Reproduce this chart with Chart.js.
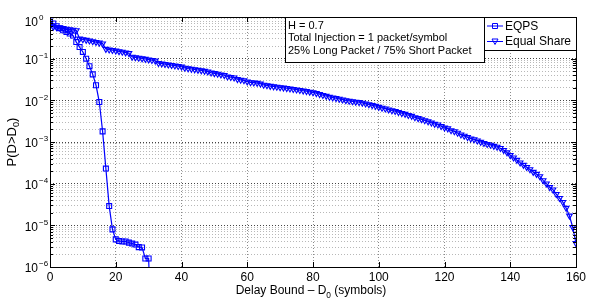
<!DOCTYPE html>
<html lang="en">
<head>
<meta charset="UTF-8" />
<title>Delay bound tail probability</title>
<script src="https://cdn.jsdelivr.net/npm/chart.js"></script>
<style>
  body { margin: 0; background: #fff; }
</style>
</head>
<body>
<canvas id="delayChart" width="592" height="301"></canvas>
<script>
// EQPS: delay bound (symbols) and P(D > D0)
const eqpsDelay = [0, 1, 2, 3, 4, 5, 6, 7, 8, 9, 10, 11, 12, 13, 14, 15, 16, 17, 18, 19, 20,
  21, 22, 23, 24, 25, 26, 27, 28, 29, 30, 31]
const eqpsProb = [0.78, 0.70, 0.60, 0.54, 0.48, 0.44, 0.40, 0.36, 0.25, 0.19, 0.145, 0.10, 0.066,
  0.042, 0.023, 0.0091, 0.0018, 2.3e-4, 2.9e-5, 8.0e-6, 4.6e-6, 4.2e-6, 4.1e-6, 4.1e-6, 3.85e-6,
  3.65e-6, 3.45e-6, 3.0e-6, 2.95e-6, 1.6e-6, 1.6e-6, 1e-8]

// Equal Share: one value per delay bound 0..160
const equalShareProb = [
  0.60, 0.58, 0.565, 0.55, 0.535, 0.52, 0.505, 0.49, 0.475, 0.30,
  0.29, 0.28, 0.27, 0.26, 0.25, 0.24, 0.23, 0.17, 0.165, 0.16,
  0.155, 0.15, 0.145, 0.14, 0.135, 0.11, 0.107, 0.104, 0.101, 0.098,
  0.095, 0.092, 0.089, 0.078, 0.076, 0.074, 0.072, 0.070, 0.068, 0.066,
  0.064, 0.060, 0.058, 0.0565, 0.055, 0.0535, 0.052, 0.0505, 0.049, 0.046,
  0.0445, 0.043, 0.0415, 0.040, 0.037, 0.036, 0.035, 0.032, 0.031, 0.030,
  0.028, 0.027, 0.0265, 0.026, 0.025, 0.0235, 0.0228, 0.022, 0.0215, 0.021,
  0.0205, 0.020, 0.0195, 0.019, 0.0185, 0.018, 0.0175, 0.017, 0.0165, 0.016,
  0.0155, 0.0148, 0.014, 0.0133, 0.0127, 0.012, 0.0116, 0.0112, 0.0108, 0.0104,
  0.0100, 0.0097, 0.0094, 0.0092, 0.0090, 0.0087, 0.0083, 0.0080, 0.0076, 0.0073,
  0.0069, 0.0066, 0.0063, 0.0060, 0.0057, 0.0055, 0.0052, 0.0049, 0.0047, 0.0044,
  0.0042, 0.0039, 0.0037, 0.0035, 0.0033, 0.0031, 0.0029, 0.0027, 0.0026, 0.0024,
  0.0022, 0.0021, 0.0019, 0.0018, 0.00165, 0.0015, 0.0014, 0.0013, 0.0012, 0.00115,
  0.00108, 0.00100, 0.00094, 0.00089, 0.00085, 0.00080, 0.00076, 0.00071, 0.00064, 0.00056,
  0.00048, 0.00042, 0.00037, 0.00032, 0.00028, 0.00025, 0.00022, 0.00019, 0.00017, 0.00015,
  0.00012, 0.00010, 0.000082, 0.000072, 0.000056, 0.000045, 0.000036, 0.000026, 0.000017, 0.0000090,
  0.0000037
]

const xTicks = [0, 20, 40, 60, 80, 100, 120, 140, 160]
const yDecades = [0, -1, -2, -3, -4, -5, -6]
const seriesNames = ['EQPS', 'Equal Share']
const infoLines = ['H = 0.7', 'Total Injection = 1 packet/symbol', '25% Long Packet / 75% Short Packet']

const FONT = '"Liberation Sans", Arial, sans-serif'
const BLUE = '#0000ff'

// log grid: 1..9 x 10^n
const logGrid = []
yDecades.slice().reverse().forEach((e) => {
  for (let m = 1; m <= 9; m++) {
    const v = m * Math.pow(10, e)
    if (v <= 1) logGrid.push(v)
  }
})
const isDecade = (v) => Math.abs(Math.log10(v) - Math.round(Math.log10(v))) < 1e-9

function textWithSub(ctx, parts, x, y, size) {
  // parts: [text, sub, text] drawn left to right, x = left edge
  let cx = x
  parts.forEach((p, i) => {
    if (i % 2 === 1) {
      ctx.font = `${size * 0.7}px ${FONT}`
      ctx.fillText(p, cx, y + size * 0.35)
    } else {
      ctx.font = `${size}px ${FONT}`
      ctx.fillText(p, cx, y)
    }
    cx += ctx.measureText(p).width
  })
  return cx - x
}

function measureSub(ctx, parts, size) {
  let w = 0
  parts.forEach((p, i) => {
    ctx.font = `${i % 2 === 1 ? size * 0.7 : size}px ${FONT}`
    w += ctx.measureText(p).width
  })
  return w
}

const framePlugin = {
  id: 'frame',
  afterDraw(chart) {
    const { ctx, chartArea: a, scales } = chart
    const xs = scales.x
    const ys = scales.y
    ctx.save()
    ctx.strokeStyle = '#000'
    ctx.lineWidth = 1
    ctx.strokeRect(a.left + 0.5, a.top + 0.5, a.right - a.left, a.bottom - a.top)

    // tick marks inside the box
    ctx.beginPath()
    xTicks.forEach((v) => {
      const px = Math.round(xs.getPixelForValue(v)) + 0.5
      ctx.moveTo(px, a.bottom)
      ctx.lineTo(px, a.bottom - 5)
      ctx.moveTo(px, a.top)
      ctx.lineTo(px, a.top + 5)
    })
    logGrid.forEach((v) => {
      const py = Math.round(ys.getPixelForValue(v)) + 0.5
      const len = isDecade(v) ? 5 : 3
      ctx.moveTo(a.left, py)
      ctx.lineTo(a.left + len, py)
      ctx.moveTo(a.right, py)
      ctx.lineTo(a.right - len, py)
    })
    ctx.stroke()

    // x tick labels
    ctx.fillStyle = '#000'
    ctx.font = `12px ${FONT}`
    ctx.textAlign = 'center'
    ctx.textBaseline = 'middle'
    xTicks.forEach((v) => {
      ctx.fillText(String(v), xs.getPixelForValue(v), a.bottom + 11)
    })

    // y tick labels 10^n
    yDecades.forEach((e) => {
      const py = ys.getPixelForValue(Math.pow(10, e))
      const base = py + (e === 0 ? 6 : 2)
      ctx.font = `12px ${FONT}`
      ctx.textAlign = 'right'
      ctx.fillText('10', 38, base)
      ctx.font = `8px ${FONT}`
      ctx.textAlign = 'left'
      ctx.fillText(e === 0 ? '0' : '\u2212' + Math.abs(e), 39, base - 5)
    })

    // axis titles
    ctx.textAlign = 'left'
    const xParts = ['Delay Bound \u2013 D', '0', ' (symbols)']
    const xw = measureSub(ctx, xParts, 12)
    textWithSub(ctx, xParts, (a.left + a.right) / 2 - xw / 2 - 2, 291, 12)

    const yParts = ['P(D>D', '0', ')']
    const yw = measureSub(ctx, yParts, 13)
    ctx.save()
    ctx.translate(12, (a.top + a.bottom) / 2)
    ctx.rotate(-Math.PI / 2)
    textWithSub(ctx, yParts, -yw / 2, 0, 13)
    ctx.restore()

    // annotation box
    ctx.fillStyle = '#fff'
    ctx.fillRect(285.5, 17.5, 199, 45)
    ctx.strokeStyle = '#000'
    ctx.strokeRect(285.5, 17.5, 199, 45)
    ctx.fillStyle = '#000'
    ctx.font = `11px ${FONT}`
    ctx.textAlign = 'left'
    infoLines.forEach((t, i) => ctx.fillText(t, 288, 25.5 + i * 12.7))

    // legend box
    ctx.fillStyle = '#fff'
    ctx.fillRect(484.5, 17.5, 92, 33)
    ctx.strokeRect(484.5, 17.5, 92, 33)
    const styles = ['rect', 'triangle']
    seriesNames.forEach((name, i) => {
      const ly = 26 + i * 15.5
      ctx.strokeStyle = BLUE
      ctx.lineWidth = 1
      ctx.beginPath()
      ctx.moveTo(487, ly)
      ctx.lineTo(503, ly)
      ctx.stroke()
      ctx.beginPath()
      if (styles[i] === 'rect') {
        ctx.rect(492.5, ly - 2.5, 5, 5)
      } else {
        ctx.moveTo(492, ly - 2.5)
        ctx.lineTo(498, ly - 2.5)
        ctx.lineTo(495, ly + 3)
        ctx.closePath()
      }
      ctx.stroke()
      ctx.fillStyle = '#000'
      ctx.font = `12px ${FONT}`
      ctx.fillText(name, 505, ly + 0.5)
    })
    ctx.restore()
  },
}

const ctx = document.getElementById('delayChart').getContext('2d')
new Chart(ctx, {
  type: 'line',
  data: {
    datasets: [
      {
        label: seriesNames[0],
        data: eqpsDelay.map((d, i) => ({ x: d, y: eqpsProb[i] })),
        borderColor: BLUE,
        borderWidth: 1.2,
        pointStyle: 'rect',
        pointRadius: 3.5,
        pointBorderColor: BLUE,
        pointBackgroundColor: 'rgba(255,255,255,0)',
        pointBorderWidth: 1.1,
        tension: 0,
      },
      {
        label: seriesNames[1],
        data: equalShareProb.map((p, d) => ({ x: d, y: p })),
        borderColor: BLUE,
        borderWidth: 1.2,
        pointStyle: 'triangle',
        pointRotation: 180,
        pointRadius: 3.3,
        pointBorderColor: BLUE,
        pointBackgroundColor: 'rgba(255,255,255,0)',
        pointBorderWidth: 1.1,
        tension: 0,
      },
    ],
  },
  options: {
    responsive: false,
    animation: false,
    devicePixelRatio: 1,
    layout: { padding: { top: 17, right: 16, left: 0, bottom: 0 } },
    plugins: { legend: { display: false }, tooltip: { enabled: false } },
    scales: {
      x: {
        type: 'linear',
        min: 0,
        max: 160,
        ticks: { display: false, stepSize: 20 },
        grid: { color: '#8a8a8a', drawTicks: false, lineWidth: 1 },
        border: { display: false, dash: [1, 2] },
        afterFit: (s) => { s.height = 34 },
      },
      y: {
        type: 'logarithmic',
        min: 1e-6,
        max: 1,
        ticks: { display: false },
        afterBuildTicks: (s) => { s.ticks = logGrid.map((v) => ({ value: v })) },
        grid: {
          drawTicks: false,
          lineWidth: 1,
          color: (c) => (c.tick && isDecade(c.tick.value) ? '#444' : '#b8b8b8'),
        },
        border: { display: false, dash: [1, 2] },
        afterFit: (s) => { s.width = 50 },
      },
    },
  },
  plugins: [framePlugin],
})
</script>
</body>
</html>
